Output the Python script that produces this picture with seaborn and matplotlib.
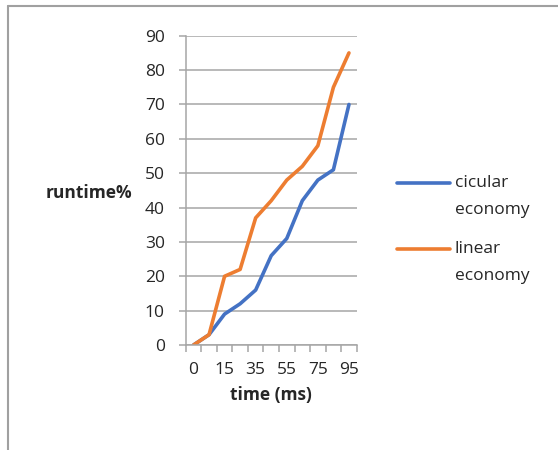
import numpy as np
import pandas as pd
import seaborn as sns
import matplotlib.pyplot as plt
from matplotlib.lines import Line2D

# data
time_ms = ["0", "5", "15", "25", "35", "45", "55", "65", "75", "85", "95"]
circular = [0, 3, 9, 12, 16, 26, 31, 42, 48, 51, 70]
linear = [0, 3, 20, 22, 37, 42, 48, 52, 58, 75, 85]
tick_labels = ["0", "15", "35", "55", "75", "95"]

blue = "#4472C4"
orange = "#ED7D31"
grid = "#A6A6A6"
FS = 12.5

sns.set_style("white")
plt.rcParams["font.family"] = ["Open Sans", "DejaVu Sans"]

df = pd.DataFrame({"pos": np.arange(len(time_ms)), "circular": circular, "linear": linear})

fig = plt.figure(figsize=(5.58, 4.5), dpi=100)
ax = fig.add_axes([0.3328, 0.2333, 0.3065, 0.6873])

sns.lineplot(data=df, x="pos", y="circular", color=blue, lw=2.6, ax=ax,
             solid_joinstyle="round", solid_capstyle="round")
sns.lineplot(data=df, x="pos", y="linear", color=orange, lw=2.6, ax=ax,
             solid_joinstyle="round", solid_capstyle="round")

ax.set_xlim(-0.5, len(time_ms) - 0.5)
ax.set_ylim(0, 90)
ax.set_yticks(range(0, 91, 10))
ax.yaxis.grid(True, color=grid, lw=1.1)
ax.set_axisbelow(True)

ax.set_xticks(np.arange(0, len(time_ms), 2))
ax.set_xticklabels(tick_labels)
ax.set_xticks(np.arange(-0.5, len(time_ms), 1), minor=True)
ax.tick_params(axis="x", which="major", length=0, pad=12, labelsize=FS)
ax.tick_params(axis="x", which="minor", length=5, width=1.1, color=grid, direction="out", bottom=True)
ax.tick_params(axis="y", length=5, width=1.1, color=grid, direction="out", left=True,
               pad=10, labelsize=FS)

for s in ["top", "right"]:
    ax.spines[s].set_visible(False)
ax.spines["left"].set_color(grid)
ax.spines["bottom"].set_color(grid)
ax.spines["left"].set_linewidth(1.1)
ax.spines["bottom"].set_linewidth(1.1)

ax.set_xlabel("time (ms)", fontsize=FS, fontweight="bold", labelpad=6)
ax.set_ylabel("")
fig.text(46 / 558, 1 - 193 / 450, "runtime%", fontsize=FS, fontweight="bold",
         ha="left", va="center")

# legend, Excel style (handle next to first line of label)
entries = [(blue, "cicular", "economy", 183), (orange, "linear", "economy", 249)]
for col, l1, l2, y in entries:
    fig.add_artist(Line2D([397 / 558, 450 / 558], [1 - y / 450] * 2, color=col, lw=2.6,
                          solid_capstyle="round", transform=fig.transFigure))
    fig.text(455 / 558, 1 - y / 450, l1, fontsize=FS, ha="left", va="center")
    fig.text(455 / 558, 1 - (y + 27) / 450, l2, fontsize=FS, ha="left", va="center")

# chart area border (top and left visible)
fig.add_artist(Line2D([8 / 558, 8 / 558], [0, 1 - 6 / 450], color="#A0A0A0", lw=1.5,
                      transform=fig.transFigure))
fig.add_artist(Line2D([8 / 558, 1], [1 - 6 / 450] * 2, color="#A0A0A0", lw=1.5,
                      transform=fig.transFigure))

fig.savefig("out.png", dpi=100)
